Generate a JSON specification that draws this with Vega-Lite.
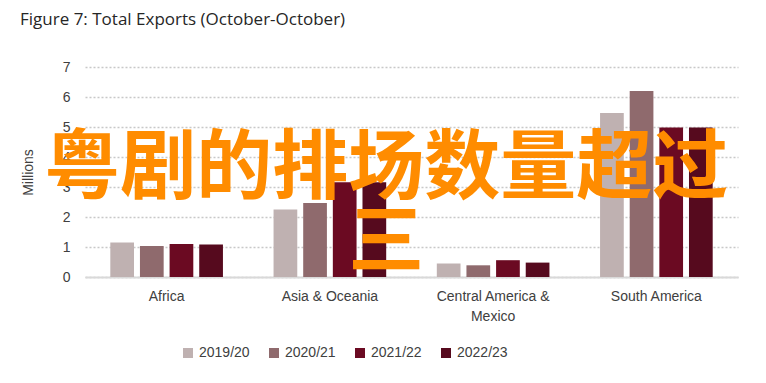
{
  "$schema": "https://vega.github.io/schema/vega-lite/v6.json",
  "width": 653,
  "height": 210,
  "autosize": {"type": "none"},
  "padding": {"left": 85, "top": 67, "right": 28, "bottom": 106},
  "background": "white",
  "title": {
    "text": "Figure 7: Total Exports (October-October)",
    "anchor": "start",
    "frame": "group",
    "dx": -65,
    "offset": 18,
    "baseline": "alphabetic",
    "font": "Open Sans",
    "fontSize": 17,
    "fontWeight": "normal",
    "color": "#262626"
  },
  "config": {
    "view": {"stroke": null},
    "font": "Liberation Sans",
    "axisX": {
      "title": null,
      "labelAngle": 0,
      "labelFontSize": 14,
      "labelColor": "#404040",
      "labelPadding": 12,
      "ticks": false,
      "domainColor": "#d9d9d9",
      "domainWidth": 2,
      "labelLineHeight": 20,
      "grid": false
    },
    "axisY": {
      "titleFontSize": 14,
      "titleFontWeight": "normal",
      "titleColor": "#404040",
      "titlePadding": 27,
      "labelOverlap": false,
      "labelFontSize": 14,
      "labelColor": "#404040",
      "labelPadding": 15,
      "ticks": false,
      "domain": false,
      "gridColor": "#c8c8c8",
      "gridDash": [2, 2],
      "gridWidth": 1.5
    }
  },
  "data": {
    "values": [
      {"region": "Africa", "year": "2019/20", "value": 1.15},
      {"region": "Africa", "year": "2020/21", "value": 1.03},
      {"region": "Africa", "year": "2021/22", "value": 1.1},
      {"region": "Africa", "year": "2022/23", "value": 1.08},
      {"region": "Asia & Oceania", "year": "2019/20", "value": 2.25},
      {"region": "Asia & Oceania", "year": "2020/21", "value": 2.47},
      {"region": "Asia & Oceania", "year": "2021/22", "value": 3.16},
      {"region": "Asia & Oceania", "year": "2022/23", "value": 3.16},
      {"region": "Central America & Mexico", "year": "2019/20", "value": 0.45},
      {"region": "Central America & Mexico", "year": "2020/21", "value": 0.39},
      {"region": "Central America & Mexico", "year": "2021/22", "value": 0.56},
      {"region": "Central America & Mexico", "year": "2022/23", "value": 0.48},
      {"region": "South America", "year": "2019/20", "value": 5.47},
      {"region": "South America", "year": "2020/21", "value": 6.2},
      {"region": "South America", "year": "2021/22", "value": 4.98},
      {"region": "South America", "year": "2022/23", "value": 4.98}
    ]
  },
  "layer": [
    {
      "mark": {"type": "bar"},
      "encoding": {
        "x": {
          "field": "region",
          "type": "nominal",
          "sort": null,
          "scale": {"paddingInner": 0.31, "paddingOuter": 0.155},
          "axis": {
            "title": null,
            "labelExpr": "datum.label == 'Central America & Mexico' ? ['Central America &', 'Mexico'] : datum.label"
          }
        },
        "xOffset": {
          "field": "year",
          "type": "nominal",
          "scale": {"paddingInner": 0.2, "paddingOuter": 0}
        },
        "y": {
          "field": "value",
          "type": "quantitative",
          "scale": {"domain": [0, 7]},
          "axis": {"title": "Millions", "values": [0, 1, 2, 3, 4, 5, 6, 7]}
        },
        "color": {
          "field": "year",
          "type": "nominal",
          "scale": {
            "domain": ["2019/20", "2020/21", "2021/22", "2022/23"],
            "range": ["#BFB1B1", "#8F6A6D", "#6B0A22", "#560A1E"]
          },
          "legend": {
            "title": null,
            "orient": "none",
            "legendX": 96,
            "legendY": 279,
            "direction": "horizontal",
            "symbolType": "square",
            "symbolSize": 100,
            "symbolStrokeWidth": 0,
            "labelFontSize": 14,
            "labelColor": "#404040",
            "columnPadding": 17
          }
        }
      }
    },
    {
      "data": {"values": [{"t": "粤剧的排场数量超过\n三"}]},
      "mark": {
        "type": "text",
        "font": "Noto Sans CJK SC",
        "fontWeight": "bold",
        "fontSize": 76,
        "lineHeight": 74,
        "lineBreak": "\n",
        "color": "#FF8C00",
        "align": "center",
        "baseline": "middle"
      },
      "encoding": {
        "x": {
          "datum": "Asia & Oceania",
          "type": "nominal",
          "bandPosition": 1,
          "axis": {
            "title": null,
            "labelExpr": "datum.label == 'Central America & Mexico' ? ['Central America &', 'Mexico'] : datum.label"
          }
        },
        "y": {
          "datum": 3.58,
          "type": "quantitative",
          "axis": {"title": "Millions", "values": [0, 1, 2, 3, 4, 5, 6, 7]}
        },
        "text": {"field": "t"}
      }
    }
  ]
}
